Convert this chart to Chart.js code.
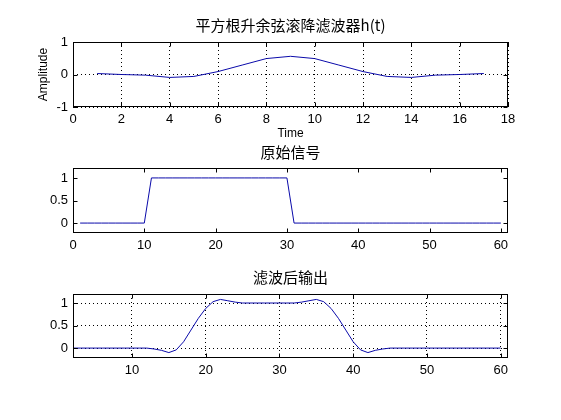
<!DOCTYPE html>
<html>
<head>
<meta charset="utf-8">
<script src="https://cdn.jsdelivr.net/npm/chart.js@4"></script>
<style>
  body { margin: 0; background: #fff; }
  #wrap { position: relative; width: 561px; height: 420px; overflow: hidden; }
  canvas { position: absolute; left: 0; }
</style>
</head>
<body>
<div id="wrap">
  <canvas id="c1" width="561" height="145" style="top:0px"></canvas>
  <canvas id="c2" width="561" height="115" style="top:140px"></canvas>
  <canvas id="c3" width="561" height="122" style="top:258px"></canvas>
</div>
<script>
// filter impulse response h(t)
const hTime = [1, 2, 3, 4, 5, 6, 7, 8, 9, 10, 11, 12, 13, 14, 15, 16, 17];
const hValues = [0.03, 0.0, -0.02, -0.09, -0.06, 0.09, 0.29, 0.49, 0.56, 0.49, 0.29, 0.09, -0.06, -0.09, -0.02, 0.0, 0.03];

// original signal, n = 1..60
const sigIndex = [];
for (let i = 1; i <= 60; i++) sigIndex.push(i);
const sigValues = [0,0,0,0,0,0,0,0,0,0,
  1,1,1,1,1,1,1,1,1,1,1,1,1,1,1,1,1,1,1,1,
  0,0,0,0,0,0,0,0,0,0,0,0,0,0,0,0,0,0,0,0,0,0,0,0,0,0,0,0,0,0];

// filtered output, n = 2..60
const outIndex = [];
for (let i = 2; i <= 60; i++) outIndex.push(i);
const outValues = [0,0,0,0,0,0,0,0,0,0,0,
  -0.02,-0.05,-0.1,-0.04,0.14,0.4,0.66,0.88,1.03,1.08,1.05,1.02,
  1.0,1.0,1.0,1.0,1.0,1.0,1.0,1.0,
  1.02,1.05,1.08,1.03,0.88,0.66,0.4,0.14,-0.04,-0.1,-0.05,-0.02,
  0,0,0,0,0,0,0,0,0,0,0,0,0,0,0,0];

const xTicks1 = [0, 2, 4, 6, 8, 10, 12, 14, 16, 18];
const yTicks1 = [-1, 0, 1];
const xTicks2 = [0, 10, 20, 30, 40, 50, 60];
const xTicks3 = [10, 20, 30, 40, 50, 60];
const yTicks23 = [0, 0.5, 1];

Chart.defaults.color = '#000';
Chart.defaults.font.family = "'Liberation Sans', Arial, sans-serif";
Chart.defaults.font.size = 12;
Chart.defaults.animation = false;

const lineColor = 'rgb(10,10,170)';

// axes box with inward tick marks, matlab style
const frame = {
  id: 'frame',
  afterDraw(chart) {
    const { ctx, chartArea: a, scales } = chart;
    const L = Math.round(a.left) + 0.5, R = Math.round(a.right) - 0.5;
    const T = Math.round(a.top) + 0.5, B = Math.round(a.bottom) - 0.5;
    const len = 4;
    ctx.save();
    ctx.strokeStyle = '#000';
    ctx.lineWidth = 1;
    ctx.strokeRect(L, T, R - L, B - T);
    ctx.beginPath();
    scales.x.ticks.forEach(t => {
      const px = Math.round(scales.x.getPixelForValue(t.value)) + 0.5;
      ctx.moveTo(px, B); ctx.lineTo(px, B - len);
      ctx.moveTo(px, T); ctx.lineTo(px, T + len);
    });
    scales.y.ticks.forEach(t => {
      const py = Math.round(scales.y.getPixelForValue(t.value)) + 0.5;
      ctx.moveTo(L, py); ctx.lineTo(L + len, py);
      ctx.moveTo(R, py); ctx.lineTo(R - len, py);
    });
    ctx.stroke();
    ctx.restore();
  }
};

function pairs(xs, ys) {
  return xs.map((x, i) => ({ x: x, y: ys[i] }));
}

function makeChart(id, cfg) {
  return new Chart(document.getElementById(id), {
    type: 'line',
    data: {
      datasets: [{
        data: pairs(cfg.xs, cfg.ys),
        borderColor: lineColor,
        borderWidth: 1,
        pointRadius: 0,
        tension: 0
      }]
    },
    options: {
      responsive: false,
      layout: { padding: { left: cfg.padLeft, right: 53, top: 0, bottom: 0 } },
      plugins: {
        legend: { display: false },
        tooltip: { enabled: false },
        title: {
          display: true,
          fullSize: false,
          text: cfg.title,
          color: '#000',
          font: { family: "'Noto Sans CJK SC', sans-serif", size: 15, weight: 'normal', lineHeight: 1 },
          padding: cfg.titlePad
        }
      },
      scales: {
        x: {
          type: 'linear',
          min: cfg.xMin, max: cfg.xMax,
          afterBuildTicks: s => { s.ticks = cfg.xTicks.map(v => ({ value: v })); },
          afterFit: s => { s.height = cfg.xHeight; },
          ticks: { padding: 5, maxRotation: 0, autoSkip: false, font: { size: 13 }, callback: v => String(v) },
          grid: { display: cfg.grid, color: '#000', lineWidth: 1, drawTicks: false },
          border: { display: false, dash: [1, 3] },
          title: cfg.xTitle ? { display: true, text: cfg.xTitle, font: { size: 12 }, padding: { top: 2, bottom: 4 } } : { display: false }
        },
        y: {
          min: cfg.yMin, max: cfg.yMax,
          afterBuildTicks: s => { s.ticks = cfg.yTicks.map(v => ({ value: v })); },
          afterFit: s => { s.width = 73 - cfg.padLeft; },
          ticks: { padding: 5, autoSkip: false, font: { size: 13 }, callback: v => String(v) },
          grid: { display: cfg.grid, color: '#000', lineWidth: 1, drawTicks: false },
          border: { display: false, dash: [1, 3] },
          title: cfg.yTitle ? { display: true, text: cfg.yTitle, font: { size: 12 }, padding: { top: 4, bottom: 2 } } : { display: false }
        }
      }
    },
    plugins: [frame]
  });
}

makeChart('c1', {
  xs: hTime, ys: hValues, title: '平方根升余弦滚降滤波器h(t)',
  titlePad: { top: 18, bottom: 9 }, padLeft: 32,
  xMin: 0, xMax: 18, yMin: -1, yMax: 1, xTicks: xTicks1, yTicks: yTicks1,
  xHeight: 38, grid: true, xTitle: 'Time', yTitle: 'Amplitude'
});

makeChart('c2', {
  xs: sigIndex, ys: sigValues, title: '原始信号',
  titlePad: { top: 5, bottom: 8 }, padLeft: 0,
  xMin: 0, xMax: 61, yMin: -0.22, yMax: 1.22, xTicks: xTicks2, yTicks: yTicks23,
  xHeight: 22, grid: false
});

makeChart('c3', {
  xs: outIndex, ys: outValues, title: '滤波后输出',
  titlePad: { top: 12, bottom: 9 }, padLeft: 0,
  xMin: 2, xMax: 61, yMin: -0.22, yMax: 1.2, xTicks: xTicks3, yTicks: yTicks23,
  xHeight: 22, grid: true
});
</script>
</body>
</html>
